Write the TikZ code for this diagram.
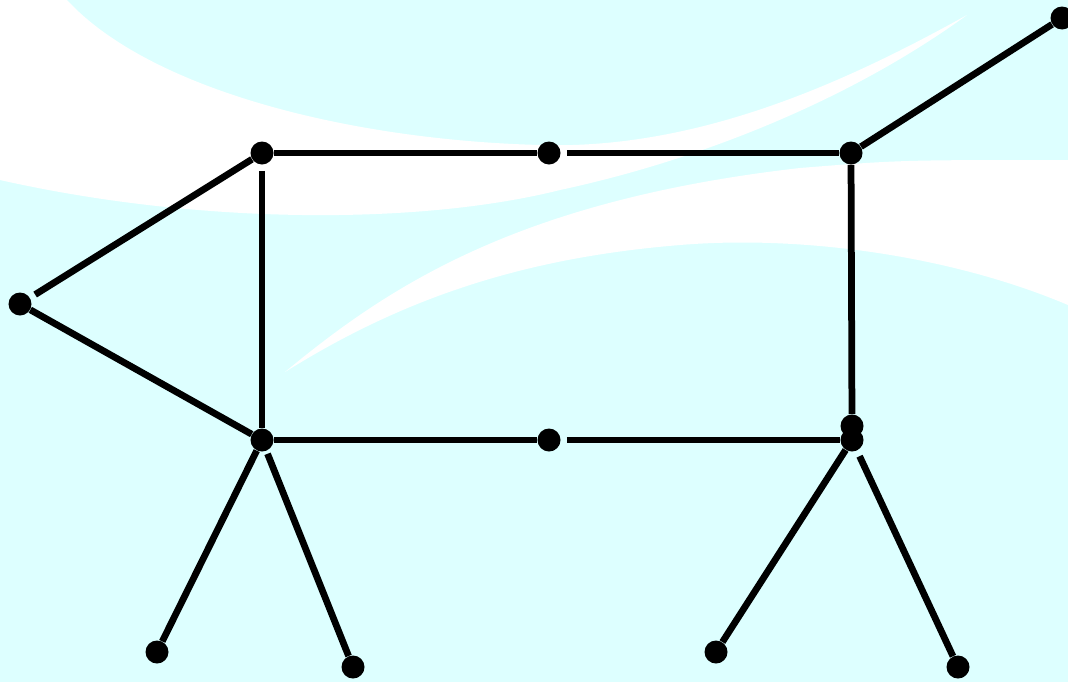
\documentclass[tikz,border=0pt]{standalone}
\usepackage{xcolor}
\definecolor{SkyCyan}{RGB}{221,255,255}
\usepackage{tikz}
\tikzset{
  % Joint dot
  joint/.style={
    circle, fill=black, draw=none,
    inner sep=0pt, minimum size=4.6mm
  },
  % Sticks
  bone/.style={line width=1.35mm, black},
  bone gap/.style={bone, shorten <=1.2mm},
}

\begin{document}
\begin{tikzpicture}[x=0.2mm, y=-0.2mm]

  %% Frame and background
  \useasboundingbox (0,0) rectangle (1068,682);
  \clip (0,0) rectangle (1068,682);
  \fill[SkyCyan] (0,0) rectangle (1068,682);

  %% White swooshes
  \fill[white] (0,0) -- (67,0) .. controls (150,90) and (350,140) .. (540,145)
    .. controls (700,150) and (850,80) .. (967,15)
    .. controls (850,100) and (700,160) .. (560,190)
    .. controls (420,225) and (200,225) .. (0,180) -- cycle;
  \fill[white] (285,372) .. controls (390,285) and (520,200) .. (800,168)
    .. controls (900,160) .. (1068,160) -- (1068,305)
    .. controls (950,255) and (800,235) .. (680,245)
    .. controls (520,258) and (400,300) .. (285,372) -- cycle;

  %% Joints
  \node[joint] (topl) at (262,153) {};
  \node[joint] (topm) at (549,153) {};
  \node[joint] (topr) at (851,153) {};
  \node[joint] (tail) at (1062,18) {};
  \node[joint] (nose) at (20,304) {};
  \node[joint] (botl) at (262,440) {};
  \node[joint] (botm) at (549,440) {};
  \node[joint] (hip)  at (852,426) {};
  \node[joint] (botr) at (852,440) {};
  \node[joint] (forel) at (157,652) {};
  \node[joint] (forer) at (353,667) {};
  \node[joint] (hindl) at (716,652) {};
  \node[joint] (hindr) at (958,667) {};

  %% Body
  \draw[bone] (topl) -- (topm);
  \draw[bone gap] (topm) -- (topr);
  \draw[bone] (botl) -- (botm);
  \draw[bone gap] (botm) -- (botr);
  \draw[bone gap] (topl) -- (botl);
  \draw[bone] (topr) -- (hip);

  %% Head and tail
  \draw[bone gap] (nose) -- (topl);
  \draw[bone] (nose) -- (botl);
  \draw[bone] (topr) -- (tail);

  %% Legs
  \draw[bone] (botl) -- (forel);
  \draw[bone, shorten <=0.6mm] (botl) -- (forer);
  \draw[bone] (botr) -- (hindl);
  \draw[bone gap] (botr) -- (hindr);

\end{tikzpicture}
\end{document}
